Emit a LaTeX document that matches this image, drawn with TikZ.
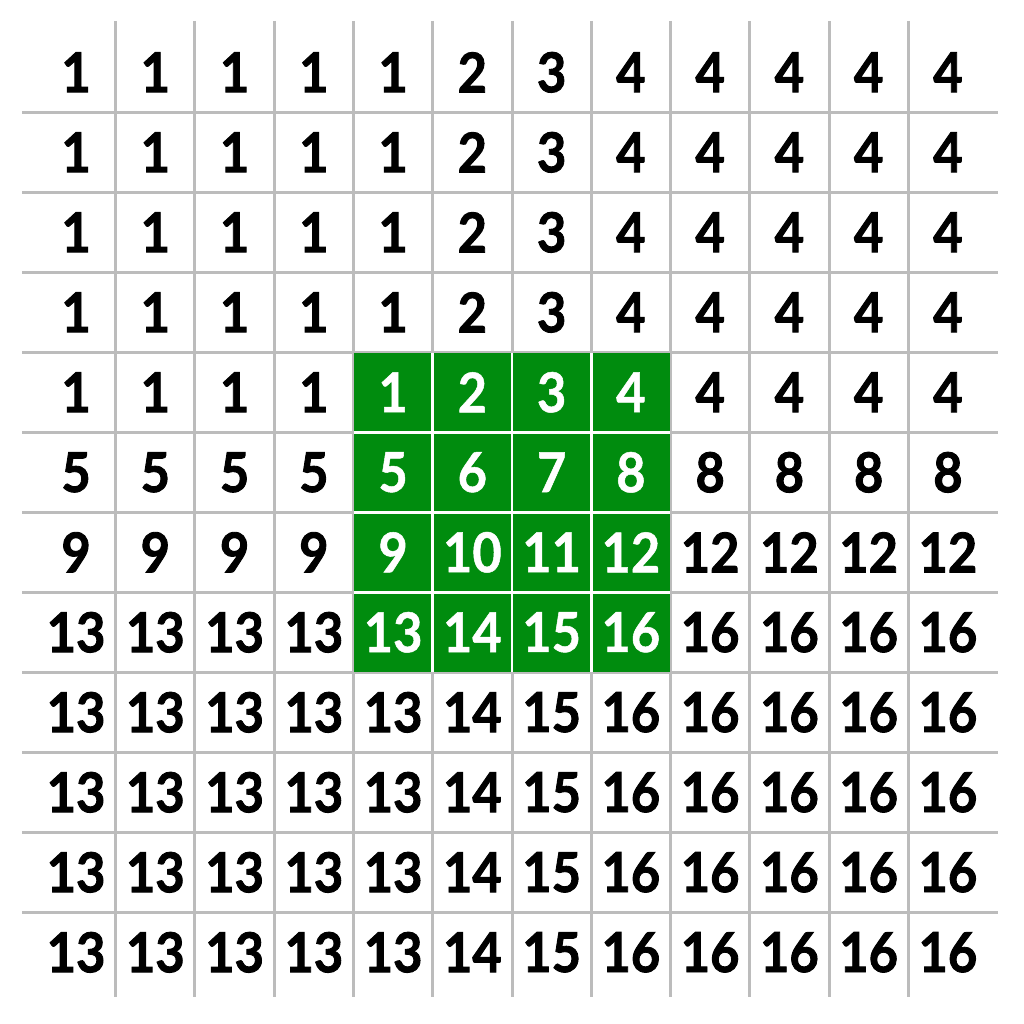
\documentclass[tikz,border=0pt]{standalone}
\usepackage{fontspec}
\setmainfont{Lato}
\newfontfamily\heavyfont{Lato}[FakeStretch=0.92, BoldFeatures={FakeBold=1.6}]
\newfontfamily\lightfont{Lato}[FakeStretch=0.92, BoldFeatures={FakeBold=0.9}]
\definecolor{gridgray}{RGB}{188,188,188}
\definecolor{cellgreen}{RGB}{0,140,14}
\tikzset{
  gridline/.style={draw=gridgray, line width=3pt},
  whiteline/.style={draw=white, line width=2.6pt},
  numcell/.style={inner sep=0pt, font=\heavyfont\fontsize{55}{60}\selectfont\bfseries, text=black},
  greennum/.style={inner sep=0pt, font=\lightfont\fontsize{55}{60}\selectfont\bfseries, text=white},
}
\begin{document}
\begin{tikzpicture}[x=1pt,y=-1pt]
\useasboundingbox (0,0) rectangle (1024,1024);
\def\xo{36.45}\def\dx{79.26}\def\yo{32.3}\def\dy{80}
% grid lines
\foreach \k in {1,...,11} {
  \draw[gridline] ({\xo+\k*\dx},21) -- ({\xo+\k*\dx},997);
  \draw[gridline] (22,{\yo+\k*\dy}) -- (998,{\yo+\k*\dy});
}
% green block
\fill[cellgreen] ({\xo+4*\dx+0.8},{\yo+4*\dy+0.8}) rectangle ({\xo+8*\dx-0.8},{\yo+8*\dy-0.8});
\foreach \k in {5,6,7} {
  \draw[whiteline] ({\xo+\k*\dx},{\yo+4*\dy+0.8}) -- ({\xo+\k*\dx},{\yo+8*\dy-0.8});
  \draw[whiteline] ({\xo+4*\dx+0.8},{\yo+\k*\dy}) -- ({\xo+8*\dx-0.8},{\yo+\k*\dy});
}
% numbers
\foreach \r in {0,...,11} {
  \foreach \c in {0,...,11} {
    \pgfmathtruncatemacro{\rr}{min(max(\r-4,0),3)}
    \pgfmathtruncatemacro{\cc}{min(max(\c-4,0),3)}
    \pgfmathtruncatemacro{\v}{4*\rr+\cc+1}
    \pgfmathtruncatemacro{\ing}{(\r>3)&&(\r<8)&&(\c>3)&&(\c<8)}
    \ifnum\ing=1
      \node[greennum] (cell-\r-\c) at ({\xo+(\c+0.5)*\dx},{\yo+(\r+0.5)*\dy}) {\v};
    \else
      \node[numcell] (cell-\r-\c) at ({\xo+(\c+0.5)*\dx},{\yo+(\r+0.5)*\dy}) {\v};
    \fi
  }
}
\end{tikzpicture}
\end{document}
